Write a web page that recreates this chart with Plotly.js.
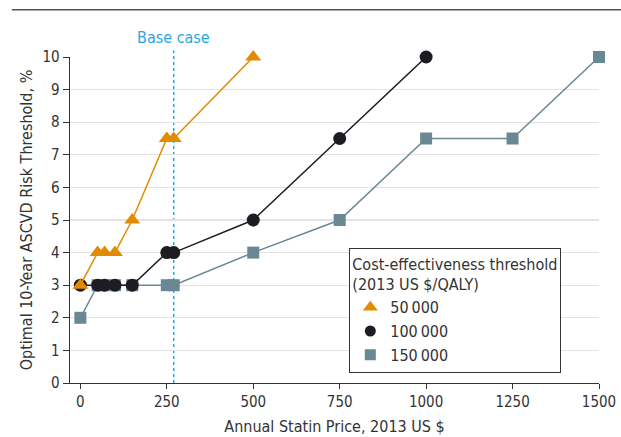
<!DOCTYPE html>
<html><head><meta charset="utf-8">
<script src="https://cdn.plot.ly/plotly-3.0.1.min.js"></script>
<style>body{margin:0;padding:0;background:#fff}#chart{width:621px;height:437px}</style>
</head><body><div id="chart"></div>
<script>
const pricesA = [0, 50, 70, 100, 150, 250, 270, 500];
const riskA = [3, 4, 4, 4, 5, 7.5, 7.5, 10];
const pricesB = [0, 50, 70, 100, 150, 250, 270, 500, 750, 1000];
const riskB = [3, 3, 3, 3, 3, 4, 4, 5, 7.5, 10];
const pricesC = [0, 50, 70, 100, 150, 250, 270, 500, 750, 1000, 1250, 1500];
const riskC = [2, 3, 3, 3, 3, 3, 3, 4, 5, 7.5, 7.5, 10];
const seriesNames = ['50\u2009000', '100\u2009000', '150\u2009000'];
const baseCase = 270;
const xTicks = [0, 250, 500, 750, 1000, 1250, 1500];
const yTicks = [0, 1, 2, 3, 4, 5, 6, 7, 8, 9, 10];

const FONT = '"DejaVu Sans Condensed", "DejaVu Sans", sans-serif';
const colors = ['#e38b00', '#1c1c22', '#6a8894'];
const symbols = ['triangle-up', 'circle', 'square'];
const sizes = [14, 13, 12];
const legendSizes = [13, 11, 11];
const xs = [pricesA, pricesB, pricesC];
const ys = [riskA, riskB, riskC];
const traces = [];
[2, 1, 0].forEach(i => {
  traces.push({x: xs[i], y: ys[i], name: seriesNames[i], mode: 'lines+markers', cliponaxis: false,
    showlegend: false, line: {color: colors[i], width: 1.5},
    marker: {symbol: symbols[i], size: sizes[i], color: colors[i]}});
});
[0, 1, 2].forEach(i => {
  traces.push({x: [null], y: [null], name: seriesNames[i], mode: 'markers', showlegend: true,
    marker: {symbol: symbols[i], size: legendSizes[i], color: colors[i]}});
});
const layout = {
  width: 621, height: 437,
  margin: {l: 70, r: 22, t: 57, b: 54},
  paper_bgcolor: '#fff', plot_bgcolor: '#fff',
  font: {family: FONT, size: 15, color: '#333'},
  showlegend: true,
  legend: {x: 0.528, y: 0.415, xanchor: 'left', yanchor: 'top', traceorder: 'normal',
    bgcolor: '#fff', bordercolor: '#333', borderwidth: 1,
    title: {text: 'Cost-effectiveness threshold<br>(2013 US $/QALY)', font: {size: 16, color: '#333'}},
    font: {size: 16, color: '#333'}, itemwidth: 30, tracegroupgap: 0},
  xaxis: {range: [-30, 1500], tickvals: xTicks, ticktext: xTicks.map(String), showgrid: false,
    zeroline: false, showline: true, linecolor: '#333', linewidth: 1.3,
    ticks: 'outside', ticklen: 5, tickcolor: '#333', tickfont: {size: 15},
    title: {text: 'Annual Statin Price, 2013 US $', font: {size: 16, color: '#333'}, standoff: 10}},
  yaxis: {range: [0, 10], tickvals: yTicks, ticktext: yTicks.map(String), showgrid: true,
    gridcolor: '#e3e3e3', gridwidth: 1.2, zeroline: false, showline: true, linecolor: '#333', linewidth: 1.3,
    ticks: 'outside', ticklen: 6, tickcolor: '#333', tickfont: {size: 15},
    title: {text: 'Optimal 10-Year ASCVD Risk Threshold, %', font: {size: 16, color: '#333'}, standoff: 6}},
  shapes: [
    {type: 'line', xref: 'x', yref: 'paper', x0: baseCase, x1: baseCase, y0: 0, y1: 1.02,
     line: {color: '#29a8e0', width: 1.5, dash: 'dot'}, layer: 'below'},
    {type: 'line', xref: 'paper', yref: 'paper', x0: -0.11, x1: 1.05, y0: 1.145, y1: 1.145,
     line: {color: '#555', width: 1.5}}
  ],
  annotations: [
    {x: baseCase, y: 1.025, xref: 'x', yref: 'paper', text: 'Base case', showarrow: false,
     yanchor: 'bottom', font: {size: 16, color: '#29a8e0'}}
  ]
};
Plotly.newPlot('chart', traces, layout, {displayModeBar: false, staticPlot: true});
</script></body></html>
